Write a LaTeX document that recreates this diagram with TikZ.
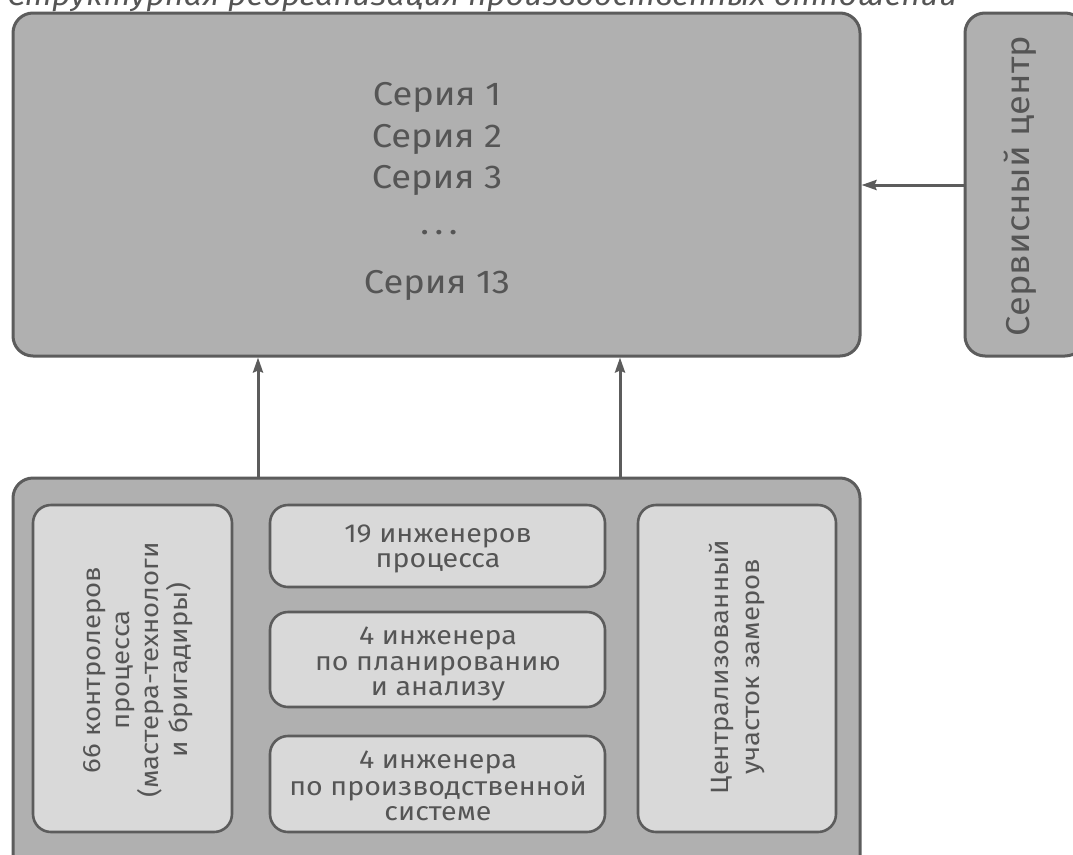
\documentclass[tikz,border=0pt]{standalone}
\usepackage{fontspec}
\setmainfont{Fira Sans}[FakeStretch=1.1]
\usetikzlibrary{arrows.meta}
\definecolor{outerfill}{HTML}{B0B0B0}
\definecolor{innerfill}{HTML}{D9D9D9}
\definecolor{edge}{HTML}{5C5C5C}
\definecolor{txt}{HTML}{555555}
\begin{document}
\begin{tikzpicture}[x=1pt,y=-1pt,
  outerbox/.style={draw=edge,line width=3pt,fill=outerfill,rounded corners=20pt},
  innerbox/.style={draw=edge,line width=2.6pt,fill=innerfill,rounded corners=18pt},
  lbl/.style={text=txt,align=center,inner sep=0pt},
  serie/.style={lbl,anchor=base,font=\fontsize{33}{40}\selectfont},
  small/.style={lbl,font=\fontsize{26}{25.5}\selectfont},
  conn/.style={draw=edge,line width=3pt,-{Stealth[length=15pt,width=10pt,inset=2pt]}}]
\useasboundingbox (0,0) rectangle (1073,854);
\begin{scope}
\clip (0,0) rectangle (1073,854);
% title (cut off at the top)
\node[anchor=base west,text=txt,inner sep=0pt,font=\itshape\fontsize{29.3}{32}\selectfont] (title) at (7,5) {Структурная реорганизация производственных отношений};
% top box
\path[outerbox] (13,13) rectangle (860,356);
\node[serie] (s1) at (437,105) {Серия 1};
\node[serie] (s2) at (437,147) {Серия 2};
\node[serie] (s3) at (437,188) {Серия 3};
\node[serie] (s4) at (439,234) {.\,.\,.};
\node[serie] (s5) at (437,293) {Серия 13};
% service
\path[outerbox] (965,13) rectangle (1085,356);
\node[lbl,rotate=90,font=\fontsize{33}{36}\selectfont] (svc) at (1020,186) {Сервисный центр};
% bottom
\path[outerbox] (13,478) rectangle (860,880);
\path[innerbox] (33,505) rectangle (232,832);
\path[innerbox] (270,505) rectangle (605,587);
\path[innerbox] (270,612) rectangle (605,707);
\path[innerbox] (270,736) rectangle (605,832);
\path[innerbox] (638,505) rectangle (836,832);
\node[lbl,rotate=90,font=\fontsize{25}{29}\selectfont] (ctrl) at (138,670) {66 контролеров\\процесса\\(мастера-технологи\\и бригадиры)};
\node[small] (e19) at (438,549) {19 инженеров\\процесса};
\node[small] (e4a) at (438,664) {4 инженера\\по планированию\\и анализу};
\node[small] (e4b) at (438,786) {4 инженера\\по производственной\\системе};
\node[lbl,rotate=90,font=\fontsize{25}{31}\selectfont] (meas) at (737,667) {Централизованный\\участок замеров};
% connectors
\coordinate (a1s) at (258,478); \coordinate (a1e) at (258,357.5);
\coordinate (a2s) at (620,478); \coordinate (a2e) at (620,357.5);
\coordinate (a3s) at (965,185); \coordinate (a3e) at (861.5,185);
\draw[conn] (a1s) -- (a1e);
\draw[conn] (a2s) -- (a2e);
\draw[conn] (a3s) -- (a3e);
\end{scope}
\end{tikzpicture}
\end{document}
